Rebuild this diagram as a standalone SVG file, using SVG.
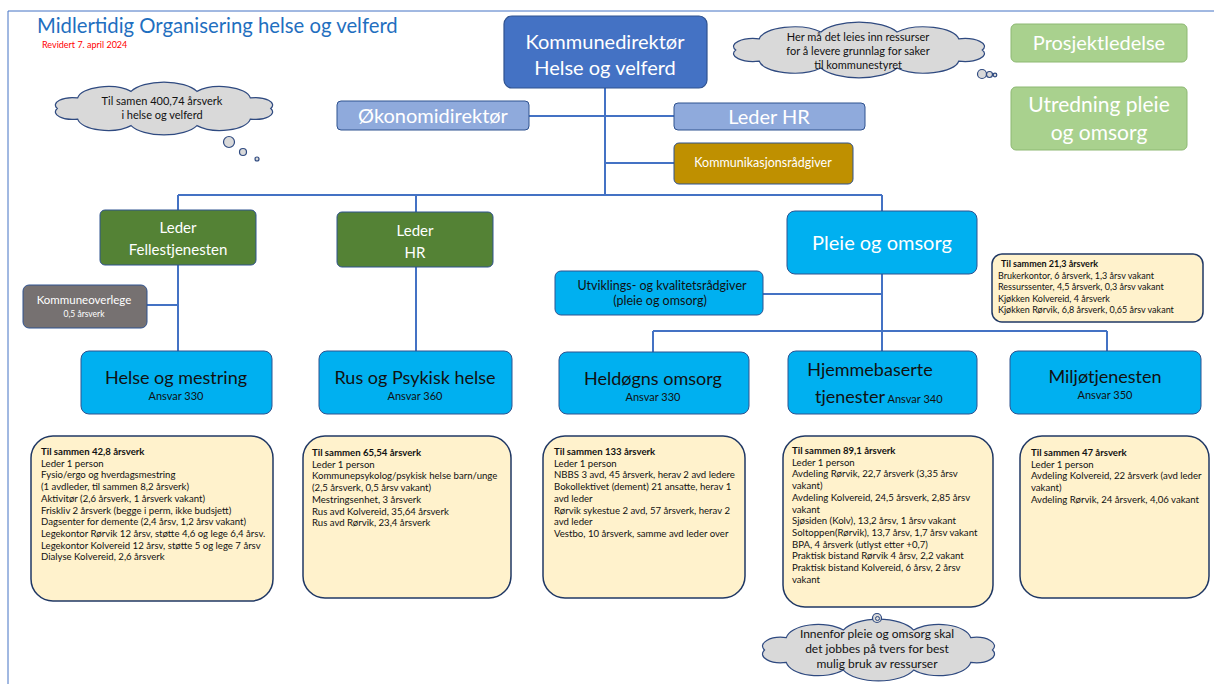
<svg xmlns="http://www.w3.org/2000/svg" xmlns:xlink="http://www.w3.org/1999/xlink" width="1214" height="684" viewBox="0 0 1214 684">
<defs>
<style>
text{font-family:Lato,"Liberation Sans",sans-serif;}
.w{fill:#fff;}
.k{fill:#111;}
.c{text-anchor:middle;}
.conn{stroke:#4472C4;stroke-width:2;fill:none;}
.blue{fill:#4472C4;stroke:#2F528F;stroke-width:1.2;}
.lblue{fill:#8FAADC;stroke:#2F528F;stroke-width:1;}
.green{fill:#A9D18E;stroke:#8DB872;stroke-width:1;}
.dgreen{fill:#548235;stroke:#2F528F;stroke-width:1;}
.cyan{fill:#00B0F0;stroke:#2F528F;stroke-width:1;}
.gold{fill:#BF9000;stroke:#2F528F;stroke-width:1;}
.gray{fill:#767171;stroke:#2F528F;stroke-width:1;}
.info{fill:#FFF2CC;stroke:#203864;stroke-width:1.5;}
.cloud{fill:#D9D9D9;stroke:#2F4A80;stroke-width:1.2;}
.t9{font-size:9.6px;}
.t9b{font-size:9.6px;font-weight:bold;}
</style>
<path id="cl" vector-effect="non-scaling-stroke" d="M192,50 A15,15 0 0 1 174.4,71.2 A26,26 0 0 1 128.4,84.2 A31,31 0 0 1 71.6,84.2 A26,26 0 0 1 25.6,71.2 A15,15 0 0 1 8,50 A15,15 0 0 1 25.6,28.8 A26,26 0 0 1 71.6,15.8 A31,31 0 0 1 128.4,15.8 A26,26 0 0 1 174.4,28.8 A15,15 0 0 1 192,50 Z"/>
</defs>
<rect width="1214" height="684" fill="#fff"/>
<path d="M8,684 V11 H1214" fill="none" stroke="#4472C4" stroke-width="1"/>

<g id="title">
<text x="37" y="33" style="font-size:20.3px;fill:#1F6FC0">Midlertidig Organisering helse og velferd</text>
<text x="42" y="48" style="font-size:9px;fill:#FF0000">Revidert 7. april 2024</text>
</g>

<g id="connectors">
<path class="conn" d="M605,88 V195"/>
<path class="conn" d="M529,116 H674"/>
<path class="conn" d="M605,163 H674"/>
<path class="conn" d="M178,195 H882"/>
<path class="conn" d="M178,195 V210"/>
<path class="conn" d="M416,195 V212"/>
<path class="conn" d="M882,195 V211"/>
<path class="conn" d="M178,265 V351"/>
<path class="conn" d="M416,267 V351"/>
<path class="conn" d="M147,305 H178"/>
<path class="conn" d="M882,274 V331"/>
<path class="conn" d="M763,294 H882"/>
<path class="conn" d="M653,331 H1107"/>
<path class="conn" d="M653,331 V352"/>
<path class="conn" d="M882,331 V351"/>
<path class="conn" d="M1107,331 V351"/>
</g>

<g id="kommunedirektor">
<rect class="blue" x="504" y="16" width="203" height="72" rx="8"/>
<text class="w c" x="605" y="49" style="font-size:20px">Kommunedirektør</text>
<text class="w c" x="605" y="75" style="font-size:20px">Helse og velferd</text>
</g>

<g id="cloud-top">
<use xlink:href="#cl" class="cloud" transform="translate(725,23.6) scale(1.34,0.528)"/>
<circle class="cloud" cx="982" cy="74" r="4.5"/>
<circle class="cloud" cx="989.5" cy="74.5" r="3"/>
<circle class="cloud" cx="995" cy="75" r="1.8"/>
<text class="k c" x="858" y="41" style="font-size:11px">Her må det leies inn ressurser</text>
<text class="k c" x="858" y="55" style="font-size:11px">for å levere grunnlag for saker</text>
<text class="k c" x="858" y="69" style="font-size:11px">til kommunestyret</text>
</g>

<g id="prosjektledelse">
<rect class="green" x="1011" y="24" width="176" height="38" rx="5"/>
<text class="w c" x="1099" y="50" style="font-size:20px">Prosjektledelse</text>
</g>

<g id="utredning">
<rect class="green" x="1011" y="87" width="176" height="63" rx="5"/>
<text class="w c" x="1099" y="112" style="font-size:21px">Utredning pleie</text>
<text class="w c" x="1099" y="140" style="font-size:21px">og omsorg</text>
</g>

<g id="cloud-left">
<use xlink:href="#cl" class="cloud" transform="translate(48,83.5) scale(1.16,0.5)"/>
<circle class="cloud" cx="229" cy="142" r="5.5"/>
<circle class="cloud" cx="243" cy="152" r="3.5"/>
<circle class="cloud" cx="257" cy="159" r="2"/>
<text class="k c" x="162" y="105" style="font-size:11px">Til samen 400,74 årsverk</text>
<text class="k c" x="162" y="119" style="font-size:11px">i helse og velferd</text>
</g>

<g id="okonomidirektor">
<rect class="lblue" x="337" y="101" width="192" height="29" rx="4"/>
<text class="w c" x="433" y="123" style="font-size:20px">Økonomidirektør</text>
</g>

<g id="leder-hr-top">
<rect class="lblue" x="674" y="103" width="191" height="27" rx="4"/>
<text class="w c" x="769" y="124" style="font-size:20px">Leder HR</text>
</g>

<g id="kommunikasjon">
<rect class="gold" x="674" y="143" width="179" height="41" rx="5"/>
<text class="w c" x="763" y="167" style="font-size:12.5px">Kommunikasjonsrådgiver</text>
</g>

<g id="leder-fellestjenesten">
<rect class="dgreen" x="100" y="210" width="156" height="55" rx="5"/>
<text class="w c" x="178" y="233" style="font-size:15px">Leder</text>
<text class="w c" x="178" y="255" style="font-size:15px">Fellestjenesten</text>
</g>

<g id="leder-hr">
<rect class="dgreen" x="337" y="212" width="156" height="55" rx="5"/>
<text class="w c" x="415" y="236" style="font-size:15px">Leder</text>
<text class="w c" x="415" y="258" style="font-size:15px">HR</text>
</g>

<g id="pleie-omsorg">
<rect class="cyan" x="787" y="211" width="190" height="63" rx="8"/>
<text class="w c" x="882" y="250" style="font-size:20px">Pleie og omsorg</text>
</g>

<g id="kommuneoverlege">
<rect class="gray" x="23" y="285" width="124" height="43" rx="6"/>
<text class="w c" x="84" y="304" style="font-size:11.5px">Kommuneoverlege</text>
<text class="w c" x="84" y="317" style="font-size:8.5px">0,5 årsverk</text>
</g>

<g id="utviklingsradgiver">
<rect class="cyan" x="555" y="271" width="208" height="44" rx="6"/>
<text class="k c" x="662" y="290" style="font-size:12.5px">Utviklings- og kvalitetsrådgiver</text>
<text class="k c" x="660" y="305" style="font-size:12.5px">(pleie og omsorg)</text>
</g>

<g id="info-pleie">
<rect class="info" x="992" y="254" width="211" height="68" rx="10"/>
<text class="k" x="1001" y="267" style="font-size:9px;font-weight:bold">Til sammen 21,3 årsverk</text>
<text class="k" x="998" y="278.5" style="font-size:9px">Brukerkontor, 6 årsverk, 1,3 årsv vakant</text>
<text class="k" x="998" y="290" style="font-size:9px">Ressurssenter, 4,5 årsverk, 0,3 årsv vakant</text>
<text class="k" x="998" y="301.5" style="font-size:9px">Kjøkken Kolvereid, 4 årsverk</text>
<text class="k" x="998" y="313" style="font-size:9px">Kjøkken Rørvik, 6,8 årsverk, 0,65 årsv vakant</text>
</g>

<g id="helse-mestring">
<rect class="cyan" x="81" y="351" width="191" height="63" rx="8"/>
<text class="k c" x="176" y="384" style="font-size:18px">Helse og mestring</text>
<text class="k c" x="176" y="400" style="font-size:11px">Ansvar 330</text>
</g>

<g id="rus-psykisk">
<rect class="cyan" x="319" y="351" width="193" height="63" rx="8"/>
<text class="k c" x="415" y="384" style="font-size:18px">Rus og Psykisk helse</text>
<text class="k c" x="415" y="400" style="font-size:11px">Ansvar 360</text>
</g>

<g id="heldogns">
<rect class="cyan" x="559" y="352" width="190" height="62" rx="8"/>
<text class="k c" x="653" y="385" style="font-size:18px">Heldøgns omsorg</text>
<text class="k c" x="653" y="401" style="font-size:11px">Ansvar 330</text>
</g>

<g id="hjemmebaserte">
<rect class="cyan" x="788" y="351" width="189" height="63" rx="8"/>
<text class="k c" x="870" y="376" style="font-size:18px">Hjemmebaserte</text>
<text class="k" x="815" y="403" style="font-size:18px">tjenester<tspan style="font-size:11px"> Ansvar 340</tspan></text>
</g>

<g id="miljotjenesten">
<rect class="cyan" x="1010" y="351" width="191" height="63" rx="8"/>
<text class="k c" x="1105" y="383" style="font-size:18px">Miljøtjenesten</text>
<text class="k c" x="1105" y="399" style="font-size:11px">Ansvar 350</text>
</g>

<g id="info-helse">
<rect class="info" x="31" y="436" width="242" height="165" rx="22"/>
<text class="k t9b" x="41" y="455">Til sammen 42,8 årsverk</text>
<text class="k t9" x="41" y="466.7">Leder 1 person</text>
<text class="k t9" x="41" y="478.4">Fysio/ergo og hverdagsmestring</text>
<text class="k t9" x="41" y="490.1">(1 avdleder, til sammen 8,2 årsverk)</text>
<text class="k t9" x="41" y="501.8">Aktivitør (2,6 årsverk, 1 årsverk vakant)</text>
<text class="k t9" x="41" y="513.5">Friskliv 2 årsverk (begge i perm, ikke budsjett)</text>
<text class="k t9" x="41" y="525.2">Dagsenter for demente (2,4 årsv, 1,2 årsv vakant)</text>
<text class="k t9" x="41" y="536.9">Legekontor Rørvik 12 årsv, støtte 4,6 og lege 6,4 årsv.</text>
<text class="k t9" x="41" y="548.6">Legekontor Kolvereid 12 årsv, støtte 5 og lege 7 årsv</text>
<text class="k t9" x="41" y="560.3">Dialyse Kolvereid, 2,6 årsverk</text>
</g>

<g id="info-rus">
<rect class="info" x="303" y="436" width="208" height="162" rx="22"/>
<text class="k t9b" x="312" y="456">Til sammen 65,54 årsverk</text>
<text class="k t9" x="312" y="467.7">Leder 1 person</text>
<text class="k t9" x="312" y="479.4">Kommunepsykolog/psykisk helse barn/unge</text>
<text class="k t9" x="312" y="491.1">(2,5 årsverk, 0,5 årsv vakant)</text>
<text class="k t9" x="312" y="502.8">Mestringsenhet, 3 årsverk</text>
<text class="k t9" x="312" y="514.5">Rus avd Kolvereid, 35,64 årsverk</text>
<text class="k t9" x="312" y="526.2">Rus avd Rørvik, 23,4 årsverk</text>
</g>

<g id="info-heldogns">
<rect class="info" x="543" y="436" width="202" height="162" rx="22"/>
<text class="k t9b" x="554" y="455">Til sammen 133 årsverk</text>
<text class="k t9" x="554" y="466.7">Leder 1 person</text>
<text class="k t9" x="554" y="478.4">NBBS 3 avd, 45 årsverk, herav 2 avd ledere</text>
<text class="k t9" x="554" y="490.1">Bokollektivet (dement) 21 ansatte, herav 1</text>
<text class="k t9" x="554" y="501.8">avd leder</text>
<text class="k t9" x="554" y="513.5">Rørvik sykestue 2 avd, 57 årsverk, herav 2</text>
<text class="k t9" x="554" y="525.2">avd leder</text>
<text class="k t9" x="554" y="536.9">Vestbo, 10 årsverk, samme avd leder over</text>
</g>

<g id="info-hjemme">
<rect class="info" x="783" y="436" width="210" height="171" rx="22"/>
<text class="k t9b" x="792" y="454">Til sammen 89,1 årsverk</text>
<text class="k t9" x="792" y="465.7">Leder 1 person</text>
<text class="k t9" x="792" y="477.4">Avdeling Rørvik, 22,7 årsverk (3,35 årsv</text>
<text class="k t9" x="792" y="489.1">vakant)</text>
<text class="k t9" x="792" y="500.8">Avdeling Kolvereid, 24,5 årsverk, 2,85 årsv</text>
<text class="k t9" x="792" y="512.5">vakant</text>
<text class="k t9" x="792" y="524.2">Sjøsiden (Kolv), 13,2 årsv, 1 årsv vakant</text>
<text class="k t9" x="792" y="535.9">Soltoppen(Rørvik), 13,7 årsv, 1,7 årsv vakant</text>
<text class="k t9" x="792" y="547.6">BPA, 4 årsverk (utlyst etter +0,7)</text>
<text class="k t9" x="792" y="559.3">Praktisk bistand Rørvik 4 årsv, 2,2 vakant</text>
<text class="k t9" x="792" y="571">Praktisk bistand Kolvereid, 6 årsv, 2 årsv</text>
<text class="k t9" x="792" y="582.7">vakant</text>
</g>

<g id="info-miljo">
<rect class="info" x="1020" y="436" width="189" height="162" rx="22"/>
<text class="k t9b" x="1031" y="456">Til sammen 47 årsverk</text>
<text class="k t9" x="1031" y="467.7">Leder 1 person</text>
<text class="k t9" x="1031" y="479.4">Avdeling Kolvereid, 22 årsverk (avd leder</text>
<text class="k t9" x="1031" y="491.1">vakant)</text>
<text class="k t9" x="1031" y="502.8">Avdeling Rørvik, 24 årsverk, 4,06 vakant</text>
</g>

<g id="cloud-bottom">
<use xlink:href="#cl" class="cloud" transform="translate(754.6,620.8) scale(1.239,0.585)"/>
<circle class="cloud" cx="877" cy="618" r="4.5"/>
<circle fill="none" stroke="#2F4A80" stroke-width="1" cx="877.5" cy="618.5" r="2"/>
<text class="k c" x="877" y="638" style="font-size:12px">Innenfor pleie og omsorg skal</text>
<text class="k c" x="877" y="653" style="font-size:12px">det jobbes på tvers for best</text>
<text class="k c" x="877" y="668" style="font-size:12px">mulig bruk av ressurser</text>
</g>
</svg>
